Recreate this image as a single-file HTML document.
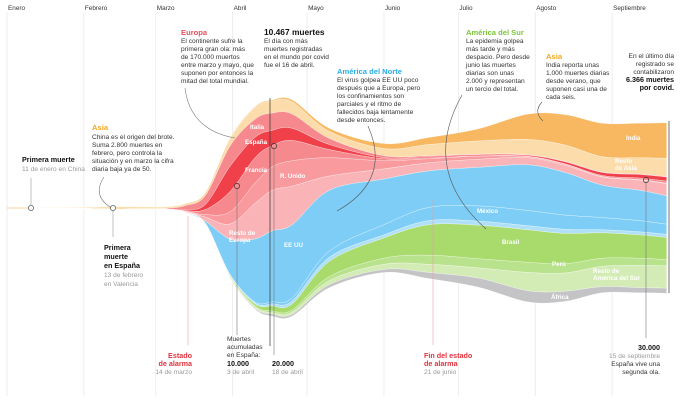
<!DOCTYPE html>
<html><head><meta charset="utf-8">
<style>
html,body{margin:0;padding:0;background:#fff;}
svg{display:block;font-family:"Liberation Sans",sans-serif;}
.t{font-size:6.6px;fill:#333;}
.g{font-size:6.6px;fill:#9a9a9a;}
.b{font-size:7.2px;font-weight:bold;fill:#111;}
.lab{font-size:6.2px;font-weight:bold;fill:#fff;}
.m{font-size:6.4px;fill:#333;}
</style></head>
<body>
<svg id="chart" width="680" height="404" viewBox="0 0 680 404">
<g id="grid"></g>
<g id="streams"></g>
<g id="notes">
  <line x1="31" y1="178" x2="31" y2="205" stroke="#999" stroke-width="0.6"/>
  <circle cx="31" cy="208" r="2.6" fill="#fff" stroke="#666" stroke-width="0.8"/>
  <text class="b" x="22" y="162">Primera muerte</text>
  <text class="g" x="22" y="171">11 de enero en China</text>

  <text x="92" y="130" style="font-size:7.6px;font-weight:bold;fill:#f5a623">Asia</text>
  <text class="t" x="92" y="139">China es el origen del brote.</text>
  <text class="t" x="92" y="147">Suma 2.800 muertes en</text>
  <text class="t" x="92" y="155">febrero, pero controla la</text>
  <text class="t" x="92" y="163">situación y en marzo la cifra</text>
  <text class="t" x="92" y="171">diaria baja ya de 50.</text>
  <path d="M104,177 Q92,195 110,207" fill="none" stroke="#777" stroke-width="0.6"/>
  <line x1="113" y1="211" x2="113" y2="237" stroke="#999" stroke-width="0.6"/>
  <circle cx="113" cy="208" r="2.6" fill="#fff" stroke="#666" stroke-width="0.8"/>
  <text class="b" x="104" y="250">Primera</text>
  <text class="b" x="104" y="259">muerte</text>
  <text class="b" x="104" y="268">en España</text>
  <text class="g" x="104" y="277">13 de febrero</text>
  <text class="g" x="104" y="286">en Valencia</text>

  <text x="181" y="35" style="font-size:7.6px;font-weight:bold;fill:#e8505b">Europa</text>
  <text class="t" x="181" y="43">El continente sufre la</text>
  <text class="t" x="181" y="51">primera gran ola: más</text>
  <text class="t" x="181" y="59">de 170.000 muertos</text>
  <text class="t" x="181" y="67">entre marzo y mayo, que</text>
  <text class="t" x="181" y="75">suponen por entonces la</text>
  <text class="t" x="181" y="83">mitad del total mundial.</text>
  <path d="M185,88 Q190,130 235,138" fill="none" stroke="#777" stroke-width="0.6"/>

  <text x="264" y="35" style="font-size:8.4px;font-weight:bold;fill:#111">10.467 muertes</text>
  <text class="t" x="264" y="43">El día con más</text>
  <text class="t" x="264" y="51">muertes registradas</text>
  <text class="t" x="264" y="59">en el mundo por covid</text>
  <text class="t" x="264" y="67">fue el 16 de abril.</text>

  <text x="337" y="74" style="font-size:7.6px;font-weight:bold;fill:#29aee8">América del Norte</text>
  <text class="t" x="337" y="82">El virus golpea EE UU poco</text>
  <text class="t" x="337" y="90">después que a Europa, pero</text>
  <text class="t" x="337" y="98">los confinamientos son</text>
  <text class="t" x="337" y="106">parciales y el ritmo de</text>
  <text class="t" x="337" y="114">fallecidos baja lentamente</text>
  <text class="t" x="337" y="122">desde entonces.</text>
  <path d="M368,126 Q392,180 337,211" fill="none" stroke="#555" stroke-width="0.6"/>

  <text x="466" y="35" style="font-size:7.6px;font-weight:bold;fill:#7cc63a">América del Sur</text>
  <text class="t" x="466" y="43">La epidemia golpea</text>
  <text class="t" x="466" y="51">más tarde y más</text>
  <text class="t" x="466" y="59">despacio. Pero desde</text>
  <text class="t" x="466" y="67">junio las muertes</text>
  <text class="t" x="466" y="75">diarias son unas</text>
  <text class="t" x="466" y="83">2.000 y representan</text>
  <text class="t" x="466" y="91">un tercio del total.</text>
  <path d="M462,95 Q420,170 486,229" fill="none" stroke="#555" stroke-width="0.6"/>

  <text x="546" y="59" style="font-size:7.6px;font-weight:bold;fill:#f5a623">Asia</text>
  <text class="t" x="546" y="67">India reporta unas</text>
  <text class="t" x="546" y="75">1.000 muertes diarias</text>
  <text class="t" x="546" y="83">desde verano, que</text>
  <text class="t" x="546" y="91">suponen casi una de</text>
  <text class="t" x="546" y="99">cada seis.</text>
  <path d="M542,102 Q533,112 543,121" fill="none" stroke="#555" stroke-width="0.6"/>

  <text class="t" x="674" y="58" text-anchor="end">En el último día</text>
  <text class="t" x="674" y="66" text-anchor="end">registrado se</text>
  <text class="t" x="674" y="74" text-anchor="end">contabilizaron</text>
  <text class="b" x="674" y="82" text-anchor="end">6.366 muertes</text>
  <text class="b" x="674" y="90" text-anchor="end">por covid.</text>

  <line x1="188" y1="216" x2="188" y2="345" stroke="#e8a0a5" stroke-width="0.6"/>
  <text x="192" y="358" text-anchor="end" style="font-size:7.2px;font-weight:bold;fill:#e0323e">Estado</text>
  <text x="192" y="366" text-anchor="end" style="font-size:7.2px;font-weight:bold;fill:#e0323e">de alarma</text>
  <text class="g" x="192" y="374" text-anchor="end">14 de marzo</text>

  <line x1="237" y1="189" x2="237" y2="335" stroke="#777" stroke-width="0.6"/>
  <text class="t" x="227" y="341">Muertes</text>
  <text class="t" x="227" y="349">acumuladas</text>
  <text class="t" x="227" y="357">en España:</text>
  <text class="b" x="227" y="366">10.000</text>
  <text class="g" x="227" y="374">3 de abril</text>

  <line x1="270" y1="98" x2="270" y2="346" stroke="#333" stroke-width="0.7"/>
  <line x1="274" y1="149" x2="274" y2="355" stroke="#777" stroke-width="0.6"/>
  <text class="b" x="272" y="366">20.000</text>
  <text class="g" x="272" y="374">18 de abril</text>

  <line x1="433" y1="200" x2="433" y2="345" stroke="#e8a0a5" stroke-width="0.6"/>
  <text x="424" y="358" style="font-size:7.2px;font-weight:bold;fill:#e0323e">Fin del estado</text>
  <text x="424" y="366" style="font-size:7.2px;font-weight:bold;fill:#e0323e">de alarma</text>
  <text class="g" x="424" y="374">21 de junio</text>

  <line x1="646" y1="183" x2="646" y2="338" stroke="#777" stroke-width="0.6"/>
  <text class="b" x="660" y="350" text-anchor="end">30.000</text>
  <text class="g" x="660" y="358" text-anchor="end">15 de septiembre</text>
  <text class="t" x="660" y="366" text-anchor="end">España vive una</text>
  <text class="t" x="660" y="374" text-anchor="end">segunda ola.</text>

  <line x1="669" y1="121" x2="669" y2="293" stroke="#333" stroke-width="0.7"/>
</g>
<g id="labels">
  <text class="lab" x="250" y="129">Italia</text>
  <text class="lab" x="245" y="144">España</text>
  <text class="lab" x="245" y="172">Francia</text>
  <text class="lab" x="280" y="178">R. Unido</text>
  <text class="lab" x="229" y="235">Resto de</text>
  <text class="lab" x="229" y="242">Europa</text>
  <text class="lab" x="284" y="247">EE UU</text>
  <text class="lab" x="477" y="213">México</text>
  <text class="lab" x="502" y="244">Brasil</text>
  <text class="lab" x="552" y="266">Perú</text>
  <text class="lab" x="593" y="273">Resto de</text>
  <text class="lab" x="593" y="280">América del Sur</text>
  <text class="lab" x="551" y="299">África</text>
  <text class="lab" x="626" y="140">India</text>
  <text class="lab" x="615" y="163">Resto</text>
  <text class="lab" x="615" y="170">de Asia</text>
</g>
<g id="markers">
  <circle cx="274" cy="146" r="2.6" fill="none" stroke="#333" stroke-width="0.7"/>
  <circle cx="237" cy="186" r="2.6" fill="none" stroke="#333" stroke-width="0.7"/>
  <circle cx="646" cy="180" r="2.6" fill="none" stroke="#333" stroke-width="0.7"/>
</g>
</svg>
<script>
const months = ["Enero","Febrero","Marzo","Abril","Mayo","Junio","Julio","Agosto","Septiembre"];
const monthStartDays = [0,31,60,91,121,152,182,213,244];
const days = [10,30,43,55,65,72,80,90,100,107,115,130,152,170,190,210,225,240,255,266];
const seriesNames = ["India","Resto de Asia","Italia","España","Francia","R. Unido","Resto de Europa","EE UU","México","Resto de América del Norte","Brasil","Perú","Resto de América del Sur","África"];
const india    = [0,0,0,0,0,0,0,25,50,50,100,150,250,350,600,1250,1500,1650,1700,1750];
const restAsia = [15,50,125,100,75,100,150,375,550,600,600,350,350,550,650,750,800,750,800,900];
const italia   = [0,0,0,0,50,200,450,1000,900,850,700,300,100,50,25,25,25,25,25,25];
const espana   = [0,0,0,0,0,50,250,1250,1000,750,600,250,50,50,50,50,100,150,175,200];
const francia  = [0,0,0,0,0,25,250,1000,1250,1050,1000,400,100,50,25,25,25,50,75,100];
const ruUnido  = [0,0,0,0,0,15,120,600,1000,1150,1250,900,400,200,150,50,50,25,25,25];
const restEur  = [0,0,0,0,0,50,200,750,1750,2000,1900,700,500,400,400,350,350,400,500,600];
const eeuu     = [0,0,0,0,0,0,120,1750,3100,3500,3600,3000,2250,1800,1900,2250,2100,1600,1500,1400];
const mexico   = [0,0,0,0,0,0,0,25,50,100,150,300,500,650,750,750,700,600,550,500];
const restNA   = [0,0,0,0,0,0,0,25,50,100,150,200,150,200,200,200,200,150,150,150];
const brasil   = [0,0,0,0,0,0,0,50,100,250,300,750,1000,1500,1650,1600,1500,1250,1150,1100];
const peru     = [0,0,0,0,0,0,0,25,50,75,100,200,300,450,450,500,450,400,350,300];
const restSur  = [0,0,0,0,0,0,0,25,50,75,100,200,250,400,500,900,900,1000,1100,1100];
const africa   = [0,0,0,0,0,0,0,25,50,100,100,150,150,300,450,550,500,300,250,250];

const seriesValues = [india,restAsia,italia,espana,francia,ruUnido,restEur,eeuu,mexico,restNA,brasil,peru,restSur,africa];
const colors = ["#f8b862","#fbdcaa","#f6898e","#f0414a","#f6898e","#f89a9e","#fab4b7","#7dcdf7","#7dcdf7","#b0e0f8","#a8da6c","#b9e28c","#d3ecb5","#c4c4c6"];

const NS="http://www.w3.org/2000/svg";
const x = d => 7 + d*2.48;
const CENTER = 208, K = 0.0203;
const y = v => CENTER + v*K;

const grid=document.getElementById('grid');
monthStartDays.forEach((d,i)=>{
  const l=document.createElementNS(NS,'line');
  l.setAttribute('x1',x(d));l.setAttribute('x2',x(d));
  l.setAttribute('y1',12);l.setAttribute('y2',396);
  l.setAttribute('stroke','#e6e6e6');l.setAttribute('stroke-width','0.7');
  
  
  grid.appendChild(l);
  const t=document.createElementNS(NS,'text');
  t.setAttribute('x',x(d)+1);t.setAttribute('y',10);t.setAttribute('class','m');
  t.textContent=months[i];
  
  
  grid.appendChild(t);
});
const tail=document.createElementNS(NS,'line');
tail.setAttribute('x1',x(0));tail.setAttribute('x2',x(days[0]));
tail.setAttribute('y1',CENTER);tail.setAttribute('y2',CENTER);
tail.setAttribute('stroke','#f8c880');tail.setAttribute('stroke-width','0.8');


grid.appendChild(tail);

const totals=days.map((_,j)=>seriesValues.reduce((s,a)=>s+a[j],0));
const bounds=[];
let cum=totals.map(t=>-t/2);
bounds.push(cum.slice());
seriesValues.forEach(a=>{cum=cum.map((c,j)=>c+a[j]);bounds.push(cum.slice());});

function curve(pts){
  let d='';
  for(let i=0;i<pts.length-1;i++){
    const p0=pts[Math.max(0,i-1)],p1=pts[i],p2=pts[i+1],p3=pts[Math.min(pts.length-1,i+2)];
    const c1=[p1[0]+(p2[0]-p0[0])/6,p1[1]+(p2[1]-p0[1])/6];
    const c2=[p2[0]-(p3[0]-p1[0])/6,p2[1]-(p3[1]-p1[1])/6];
    d+=` C${c1[0].toFixed(2)},${c1[1].toFixed(2)} ${c2[0].toFixed(2)},${c2[1].toFixed(2)} ${p2[0].toFixed(2)},${p2[1].toFixed(2)}`;
  }
  return d;
}
const streams=document.getElementById('streams');
seriesValues.forEach((a,i)=>{
  const top=days.map((d,j)=>[x(d),y(bounds[i][j])]);
  const bot=days.map((d,j)=>[x(d),y(bounds[i+1][j])]).reverse();
  const d='M'+top[0][0]+','+top[0][1]+curve(top)+' L'+bot[0][0]+','+bot[0][1]+curve(bot)+' Z';
  const p=document.createElementNS(NS,'path');
  p.setAttribute('d',d);
  p.setAttribute('fill',colors[i]);
  p.setAttribute('stroke','rgba(255,255,255,0.55)');
  p.setAttribute('stroke-width','0.5');
  
  
  streams.appendChild(p);
});
</script>
</body></html>
